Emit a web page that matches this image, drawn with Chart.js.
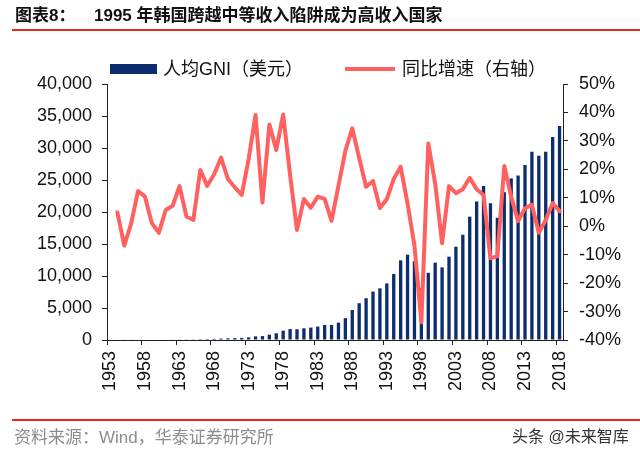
<!DOCTYPE html>
<html><head><meta charset="utf-8">
<script src="https://cdn.jsdelivr.net/npm/chart.js@4.4.1/dist/chart.umd.min.js"></script>
<style>
html,body{margin:0;padding:0;background:#fff;}
#wrap{position:relative;width:640px;height:458px;overflow:hidden;background:#fff;}
canvas{position:absolute;left:0;top:0;}
.t{position:absolute;white-space:nowrap;font-family:"Liberation Sans","Noto Sans CJK SC",sans-serif;line-height:1;}
</style></head><body>
<div id="wrap">
<canvas id="c" width="640" height="458"></canvas>
<div class="t" style="left:15px;top:7px;font-size:17px;font-weight:bold;color:#111;">图表8：</div>
<div class="t" style="left:94px;top:7px;font-size:17px;font-weight:bold;color:#111;">1995 年韩国跨越中等收入陷阱成为高收入国家</div>
<div style="position:absolute;left:12px;top:29px;width:628px;height:2px;background:#e8261f;"></div>
<div style="position:absolute;left:110px;top:64px;width:47px;height:10px;background:#0c2d6e;"></div>
<div class="t" style="left:163px;top:60px;font-size:18px;color:#111;">人均GNI（美元）</div>
<div style="position:absolute;left:345px;top:67px;width:50px;height:4px;background:#ff6060;"></div>
<div class="t" style="left:402px;top:60px;font-size:18px;color:#111;">同比增速（右轴）</div>
<div style="position:absolute;left:12px;top:419px;width:628px;height:1.5px;background:#e8261f;"></div>
<div class="t" style="left:14px;top:429px;font-size:17px;color:#8c8c8c;">资料来源：Wind，华泰证券研究所</div>
<div class="t" style="left:512px;top:429px;font-size:16px;color:#333;">头条 @未来智库</div>
</div>
<script>
const years = [1953,1954,1955,1956,1957,1958,1959,1960,1961,1962,1963,1964,1965,1966,1967,1968,1969,1970,1971,1972,1973,1974,1975,1976,1977,1978,1979,1980,1981,1982,1983,1984,1985,1986,1987,1988,1989,1990,1991,1992,1993,1994,1995,1996,1997,1998,1999,2000,2001,2002,2003,2004,2005,2006,2007,2008,2009,2010,2011,2012,2013,2014,2015,2016,2017,2018];
const gniPerCapita = [67,70,65,66,74,82,83,81,86,92,105,108,111,133,152,179,223,259,295,327,405,563,610,828,1050,1460,1700,1680,1830,1940,2100,2340,2360,2710,3420,4690,5750,6530,7570,8070,8850,10310,12450,13330,12300,8100,10500,12080,11350,13020,14580,16450,19270,21650,24060,21350,19100,23100,25250,25700,27340,29420,28800,29420,31700,33440];
const yoyGrowth = [null,4.9,-6.8,1.0,12.4,10.4,1.0,-2.3,5.7,7.2,14.1,3.4,2.2,19.8,14.2,18.2,24.1,16.6,13.7,11.0,23.6,39.1,8.3,35.8,26.8,39.3,18.0,-1.3,9.6,6.5,10.4,9.6,1.9,14.3,26.5,34.4,24.0,13.9,15.9,6.4,9.5,16.6,20.9,8.0,-6.8,-33.8,29.1,15.0,-6.0,14.1,11.6,13.0,17.0,13.0,11.0,-11.3,-10.5,21.2,10.4,1.8,6.3,7.5,-2.3,2.2,8.1,5.3];
const seriesNames = ['人均GNI（美元）','同比增速（右轴）'];

const axisColor = '#222';
const tickFont = {size:18, family:'"Liberation Sans", Arial, sans-serif'};

new Chart(document.getElementById('c'), {
  type: 'bar',
  data: {
    labels: years,
    datasets: [
      {type:'line', label:seriesNames[1], data:yoyGrowth, yAxisID:'y1', borderColor:'#ff6060', backgroundColor:'#ff6060', borderWidth:4, pointRadius:0, tension:0, borderJoinStyle:'round', borderCapStyle:'round', order:0},
      {type:'bar', label:seriesNames[0], data:gniPerCapita, yAxisID:'y', backgroundColor:'#0c2d6e', barPercentage:0.48, categoryPercentage:1, order:1}
    ]
  },
  options: {
    responsive:false, animation:false, devicePixelRatio:1,
    layout:{padding:{top:84,left:0,right:0,bottom:0}},
    plugins:{legend:{display:false}, tooltip:{enabled:false}},
    scales:{
      x:{
        offset:true,
        grid:{offset:true, drawOnChartArea:false, tickLength:5, lineWidth:1,
              tickColor:(c)=> (c.index!==undefined && c.index%5===0) ? axisColor : 'rgba(0,0,0,0)'},
        border:{color:axisColor, width:1},
        ticks:{autoSkip:false, minRotation:90, maxRotation:90, padding:6, color:'#111', font:tickFont,
               callback:(v,i)=> (i%5===0) ? String(years[i]) : ''},
        afterFit:(s)=>{s.height=118;}
      },
      y:{
        position:'left', min:0, max:40000,
        grid:{drawOnChartArea:false, tickLength:5, tickColor:axisColor},
        border:{color:axisColor, width:1},
        ticks:{stepSize:5000, padding:10, color:'#111', font:tickFont,
               callback:(v)=> v.toLocaleString('en-US')},
        afterFit:(s)=>{s.width=107;}
      },
      y1:{
        position:'right', min:-40, max:50,
        grid:{drawOnChartArea:false, tickLength:5, tickColor:axisColor},
        border:{color:axisColor, width:1},
        ticks:{stepSize:10, padding:11, color:'#111', font:tickFont,
               callback:(v)=> v+'%'},
        afterFit:(s)=>{s.width=77;}
      }
    }
  }
});
</script>
</body></html>
